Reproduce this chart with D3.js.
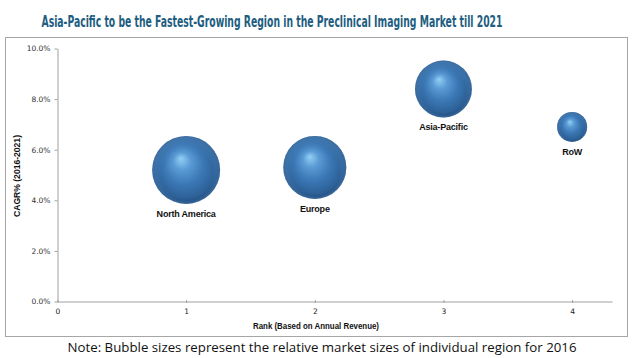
<!DOCTYPE html>
<html><head><meta charset="utf-8">
<script src="https://cdn.jsdelivr.net/npm/d3@7"></script>
<style>body{margin:0;background:#fff}svg{display:block}</style>
</head><body><svg id="c" width="634" height="358"></svg>
<script>
const regions = ["North America", "Europe", "Asia-Pacific", "RoW"];
const ranks = [1, 2, 3, 4];
const cagr = [5.2, 5.3, 8.4, 6.9];
const marketSize = [1.0, 0.86, 0.70, 0.195];
const yTicks = [0, 2, 4, 6, 8, 10];
const xTicks = [0, 1, 2, 3, 4];

const svg = d3.select("#c");
const W = 634, H = 358;

// chart border
svg.append("rect").attr("x", 5.5).attr("y", 37.5).attr("width", 622).attr("height", 299)
  .attr("fill", "#fff").attr("stroke", "#a6a6a6").attr("stroke-width", 1);

// title
svg.append("text").attr("x", 272).attr("y", 27).attr("text-anchor", "middle")
  .attr("font-family", "'Liberation Sans Narrow','DejaVu Sans Condensed',Arial,sans-serif")
  .attr("font-weight", "bold").attr("font-size", 15).attr("fill", "#215d80")
  .attr("textLength", 461).attr("lengthAdjust", "spacingAndGlyphs")
  .text("Asia-Pacific to be the Fastest-Growing Region in the Preclinical Imaging Market till 2021");

const x = d3.scaleLinear().domain([0, 4.31]).range([57.5, 612]);
const y = d3.scaleLinear().domain([0, 10]).range([301.5, 48.5]);
const r = d3.scaleSqrt().domain([0, 1]).range([0, 34]);

// axes
const xAxis = d3.axisBottom(x).tickValues(xTicks).tickSize(3).tickSizeOuter(0).tickPadding(4)
  .tickFormat(d3.format("d"));
const gx = svg.append("g").attr("transform", `translate(0,${y(0)})`).call(xAxis);
gx.select(".domain").attr("stroke", "#a0a0a0");
gx.selectAll(".tick line").attr("stroke", "#a0a0a0").attr("transform", "translate(0,-1.5)");
gx.selectAll(".tick text").attr("font-family", "'DejaVu Sans',sans-serif").attr("font-size", 7.5).attr("fill", "#222");

const yAxis = d3.axisLeft(y).tickValues(yTicks).tickSize(3).tickSizeOuter(0).tickPadding(4)
  .tickFormat(d => d.toFixed(1) + "%");
const gy = svg.append("g").attr("transform", `translate(${x(0)},0)`).call(yAxis);
gy.select(".domain").attr("stroke", "#a0a0a0");
gy.selectAll(".tick line").attr("stroke", "#a0a0a0");
gy.selectAll(".tick text").attr("font-family", "'DejaVu Sans',sans-serif").attr("font-size", 7.5).attr("fill", "#333");

// axis titles
svg.append("text").attr("x", 316).attr("y", 329).attr("text-anchor", "middle")
  .attr("font-family", "'Liberation Sans Narrow',Arial,sans-serif").attr("font-weight", "bold")
  .attr("font-size", 9).attr("fill", "#111").attr("textLength", 126).attr("lengthAdjust", "spacingAndGlyphs")
  .text("Rank (Based on Annual Revenue)");
svg.append("text").attr("transform", "translate(20,176) rotate(-90)").attr("text-anchor", "middle")
  .attr("font-family", "'Liberation Sans Narrow',Arial,sans-serif").attr("font-weight", "bold")
  .attr("font-size", 9).attr("fill", "#111").attr("textLength", 82).attr("lengthAdjust", "spacingAndGlyphs")
  .text("CAGR% (2016-2021)");

// gradient
const defs = svg.append("defs");
const g = defs.append("radialGradient").attr("id", "ball")
  .attr("cx", "50%").attr("cy", "50%").attr("r", "52%").attr("fx", "42%").attr("fy", "33%");
g.append("stop").attr("offset", "0%").attr("stop-color", "#93d0f5");
g.append("stop").attr("offset", "25%").attr("stop-color", "#5a9ad4");
g.append("stop").attr("offset", "55%").attr("stop-color", "#3b78b6");
g.append("stop").attr("offset", "85%").attr("stop-color", "#2d6197");
g.append("stop").attr("offset", "100%").attr("stop-color", "#1c4271");
const g2 = defs.append("radialGradient").attr("id", "rim")
  .attr("cx", "50%").attr("cy", "50%").attr("r", "50%").attr("fx", "55%").attr("fy", "80%");
g2.append("stop").attr("offset", "0%").attr("stop-color", "#5d9bd6").attr("stop-opacity", 0);
g2.append("stop").attr("offset", "75%").attr("stop-color", "#5d9bd6").attr("stop-opacity", 0);
g2.append("stop").attr("offset", "100%").attr("stop-color", "#6fa8de").attr("stop-opacity", 0.35);

const data = regions.map((name, i) => ({ name, rank: ranks[i], v: cagr[i], s: marketSize[i] }));

const b = svg.append("g").selectAll("g").data(data).join("g");
b.append("circle").attr("cx", d => x(d.rank)).attr("cy", d => y(d.v)).attr("r", d => r(d.s))
  .attr("fill", "url(#ball)");
b.append("circle").attr("cx", d => x(d.rank)).attr("cy", d => y(d.v)).attr("r", d => r(d.s))
  .attr("fill", "url(#rim)");
b.append("text").attr("x", d => x(d.rank)).attr("y", d => y(d.v) + r(d.s) + 13)
  .attr("text-anchor", "middle")
  .attr("font-family", "'Liberation Sans Narrow',Arial,sans-serif").attr("font-weight", "bold")
  .attr("font-size", 9).attr("fill", "#111").attr("letter-spacing", -0.2)
  .text(d => d.name);

// note
svg.append("text").attr("x", 322).attr("y", 352).attr("text-anchor", "middle")
  .attr("font-family", "'Open Sans','Liberation Sans',sans-serif").attr("font-size", 13).attr("fill", "#111")
  .attr("textLength", 509).attr("lengthAdjust", "spacingAndGlyphs")
  .text("Note: Bubble sizes represent the relative market sizes of individual region for 2016");
</script></body></html>
